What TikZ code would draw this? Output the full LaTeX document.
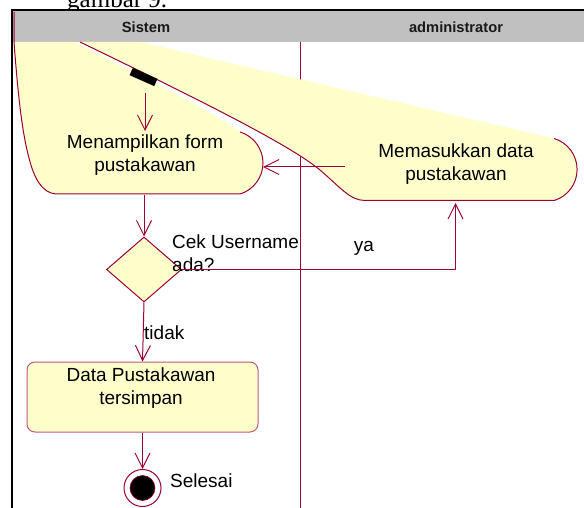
\documentclass[tikz,border=0pt]{standalone}
\usepackage{fontspec}
\setmainfont{Liberation Sans}
\newfontfamily\captionserif{Liberation Serif}
\usetikzlibrary{arrows.meta,shapes.geometric}

\definecolor{laneline}{RGB}{153,0,51}
\definecolor{actfill}{RGB}{255,255,204}
\definecolor{headgray}{RGB}{192,192,192}

\begin{document}
\begin{tikzpicture}[x=1pt,y=-1pt,
  flow/.style={draw=laneline, line width=1pt, -{Straight Barb[length=15pt,width=15pt]}},
  shapeline/.style={draw=laneline, line width=1pt},
  txt/.style={font=\fontsize{19}{23}\selectfont, inner sep=0pt, align=center},
  headtxt/.style={font=\fontsize{14.7}{17}\selectfont\bfseries, inner sep=0pt, text=black!90},
]
\clip (0,0) rectangle (584,508);
\fill[white] (0,0) rectangle (584,508);

% caption of the page above the figure
\node[anchor=base west, inner sep=0pt, font=\captionserif\fontsize{25}{30}\selectfont] (pagecaption) at (67,8) {gambar 9.};

% swimlane header and frame
\fill[headgray] (12,11) rectangle (590,42);
\draw[line width=2pt] (12,512) -- (12,10) -- (590,10);
\node[headtxt] (lanesistem) at (146,27) {Sistem};
\node[headtxt] (laneadmin) at (456,27) {administrator};

% divider between the two lanes
\draw[laneline, line width=1pt] (300,42) -- (300,512);

% activity "Menampilkan form pustakawan" (stretched body)
\fill[actfill] (14,42) -- (74,42) .. controls (150,80) and (210,110) .. (240.1,132)
  .. controls (253.7,136.2) and (263,148.8) .. (263,163)
  .. controls (263,177.2) and (253.7,189.8) .. (240.1,194) -- (56,194)
  .. controls (42,193) and (34,178) .. (29,158)
  .. controls (22,132) and (18,95) .. (14,42) -- cycle;

% activity "Memasukkan data pustakawan" (stretched body)
\fill[actfill] (80,42) -- (140,42) -- (554.2,138.5)
  .. controls (567.8,142.7) and (577.1,155.3) .. (577.1,169.5)
  .. controls (577.1,183.7) and (567.8,196.3) .. (554.2,200.5) -- (365,200.5)
  .. controls (350,200.5) and (340,187) .. (320,170)
  .. controls (290,145) and (200,100) .. (80,42) -- cycle;

% outlines of both activities
\draw[shapeline] (240.1,132) .. controls (253.7,136.2) and (263,148.8) .. (263,163)
  .. controls (263,177.2) and (253.7,189.8) .. (240.1,194) -- (56,194)
  .. controls (42,193) and (34,178) .. (29,158)
  .. controls (22,132) and (18,95) .. (14,42) -- (14,12);
\draw[shapeline] (554.2,138.5) .. controls (567.8,142.7) and (577.1,155.3) .. (577.1,169.5)
  .. controls (577.1,183.7) and (567.8,196.3) .. (554.2,200.5) -- (365,200.5)
  .. controls (350,200.5) and (340,187) .. (320,170)
  .. controls (290,145) and (200,100) .. (80,42);

% initial state bar
\node[fill=black, minimum width=27pt, minimum height=8pt, inner sep=0pt, rotate=-24] (start) at (143.5,77) {};

% activity texts
\node[txt] (tampil) at (145,155.5) {Menampilkan form\\pustakawan};
\node[txt] (masuk) at (456,164) {Memasukkan data\\pustakawan};

% decision
\node[diamond, draw=laneline, fill=actfill, line width=1pt, minimum width=75pt, minimum height=65pt, inner sep=0pt] (cek) at (144,269.5) {};
\node[txt, align=left, anchor=west] (cektext) at (172,253) {Cek Username\\ada?};

% stored data
\node[draw=laneline!65, fill=actfill, rounded corners=8pt, line width=1pt, minimum width=231pt, minimum height=70pt, inner sep=0pt] (simpan) at (142.5,397) {};
\node[txt] (simpantext) at (141,388.5) {Data Pustakawan\\tersimpan};

% final state
\node[circle, draw=laneline, fill=white, line width=1pt, minimum size=37pt, inner sep=0pt] (selesai) at (142.5,488) {};
\node[circle, draw=laneline, fill=black, line width=0.6pt, minimum size=25pt, inner sep=0pt] (selesaidot) at (selesai.center) {};

% guard and state labels
\node[txt, anchor=west] (tidaklbl) at (144,333) {tidak};
\node[txt] (yalbl) at (364,248) {ya};
\node[txt, anchor=west] (selesailbl) at (170,481) {Selesai};

% connector ends on the stretched activities
\coordinate (startout) at (145,93);
\coordinate (tampiltop) at (145,131);
\coordinate (tampilbottom) at (144,195);
\coordinate (tampileast) at (263,167);
\coordinate (masukwest) at (345,167);
\coordinate (masuksouth) at (455.5,203);

% transitions
\draw[flow] (startout) -- (tampiltop);
\draw[flow] (tampilbottom) -- (cek.north);
\draw[flow] (masukwest) -- (tampileast);
\draw[flow] (cek.east) -| (masuksouth);
\draw[flow] (cek.south) -- (simpan.north);
\draw[flow] (simpan.south) -- (selesai.north);
\end{tikzpicture}
\end{document}
